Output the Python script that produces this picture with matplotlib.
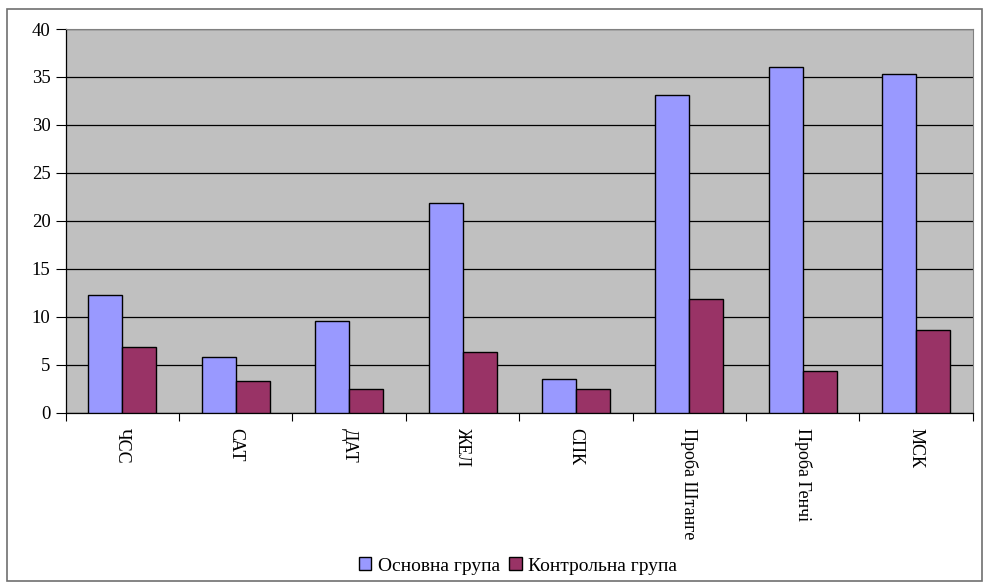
import matplotlib
matplotlib.use("Agg")
import matplotlib.pyplot as plt
import numpy as np
from matplotlib.patches import Rectangle

categories = ["ЧСС", "САТ", "ДАТ", "ЖЕЛ", "СПК", "Проба Штанге", "Проба Генчі", "МСК"]
main_group = [12.3, 5.8, 9.6, 21.9, 3.5, 33.1, 36.0, 35.3]
control_group = [6.8, 3.3, 2.5, 6.3, 2.5, 11.9, 4.3, 8.6]
series_names = ["Основна група", "Контрольна група"]
y_ticks = [0, 5, 10, 15, 20, 25, 30, 35, 40]

plt.rcParams["font.family"] = ["Liberation Serif", "DejaVu Serif"]

fig = plt.figure(figsize=(9.84, 5.82), dpi=100)
W, H = 984, 582
ax = fig.add_axes([65.7 / W, 1 - 412.7 / H, (972.7 - 65.7) / W, (412.7 - 29) / H])

x = np.arange(len(categories))
bw = 0.3
ax.set_facecolor("#C0C0C0")
ax.bar(x - bw / 2, main_group, width=bw, color="#9999FF", edgecolor="black",
       linewidth=1.0, label=series_names[0], zorder=3)
ax.bar(x + bw / 2, control_group, width=bw, color="#993366", edgecolor="black",
       linewidth=1.0, label=series_names[1], zorder=3)

ax.set_xlim(-0.5, len(categories) - 0.5)
ax.set_ylim(0, 40)
ax.set_yticks(y_ticks)
ax.yaxis.grid(True, color="black", linewidth=0.9, zorder=1)
ax.tick_params(axis="y", direction="out", length=7, labelsize=13.5, width=0.8, pad=4)

# category boundaries carry the tick marks; labels sit at the centres
ax.set_xticks(np.arange(len(categories) + 1) - 0.5)
ax.set_xticklabels([])
ax.set_xticks(x, minor=True)
ax.set_xticklabels(categories, minor=True, rotation=270, fontsize=13, va="top", ha="center")
ax.tick_params(axis="x", which="major", direction="out", length=6, width=0.8)
ax.tick_params(axis="x", which="minor", length=0, pad=11)

for side in ["top", "right"]:
    ax.spines[side].set_color("#808080")
for side in ["left", "bottom"]:
    ax.spines[side].set_color("black")
    ax.spines[side].set_linewidth(0.9)

fig.legend(loc="center", bbox_to_anchor=(518 / W, 1 - 566 / H), ncol=2, frameon=False,
           fontsize=14, handlelength=0.65, handleheight=0.65, handletextpad=0.35,
           columnspacing=0.45, borderpad=0.2)

fig.patches.append(Rectangle((7 / W, 1 / H), (W - 9) / W, (H - 10) / H,
                             transform=fig.transFigure, fill=False,
                             edgecolor="#707070", linewidth=1.2))

fig.savefig("out.png", dpi=100, facecolor="white")
